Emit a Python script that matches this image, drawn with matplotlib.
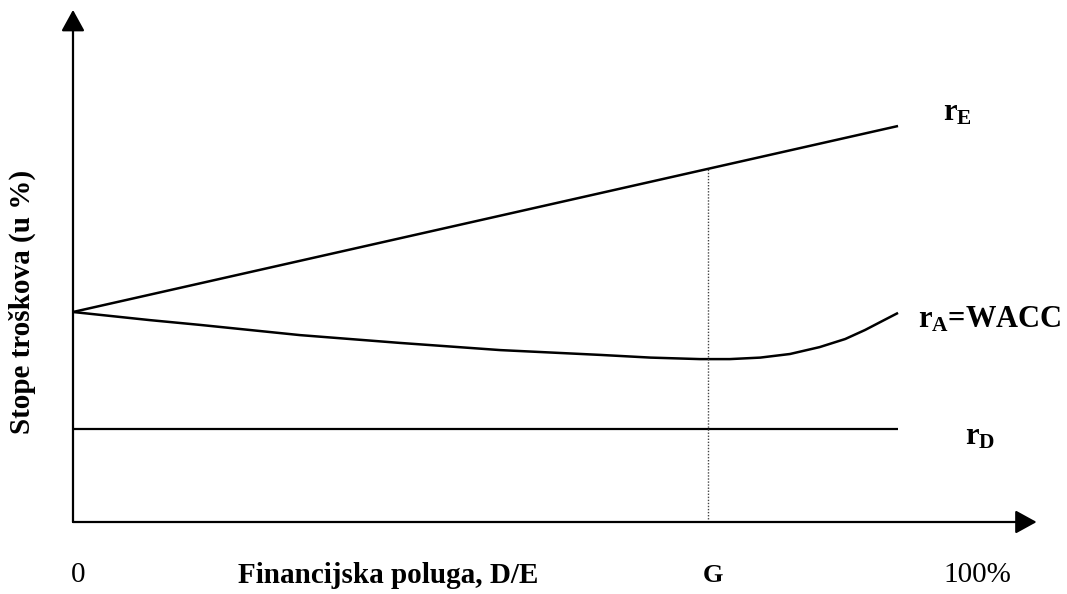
import matplotlib
matplotlib.use("Agg")
import matplotlib.pyplot as plt

# ---- data ----
leverage_wacc = [0, 9.3, 15.4, 27.5, 39.6, 51.8, 63.9, 70.0, 76.0, 79.6, 83.3, 86.9, 90.5, 93.6, 96.0, 98.1, 100]
wacc = [7.0, 6.73, 6.57, 6.23, 5.97, 5.73, 5.57, 5.48, 5.43, 5.43, 5.48, 5.60, 5.83, 6.10, 6.40, 6.70, 6.97]
leverage_line = [0, 100]
r_e = [7.0, 13.2]
r_d = [3.1, 3.1]
g_point = 77.0
x_tick_labels = ["0", "G", "100%"]
x_axis_title = "Financijska poluga, D/E"
y_axis_title = "Stope troškova (u %)"

plt.rcParams['font.family'] = ['Liberation Serif', 'DejaVu Serif']
plt.rcParams['mathtext.fontset'] = 'custom'
plt.rcParams['mathtext.rm'] = 'Liberation Serif'
plt.rcParams['mathtext.bf'] = 'Liberation Serif:bold'
plt.rcParams['mathtext.it'] = 'Liberation Serif:italic'

fig = plt.figure(figsize=(10.67, 5.94), dpi=100)
ax = fig.add_axes([0, 0, 1, 1])
ax.set_xlim(-8.848, 120.48)
ax.set_ylim(-2.4, 17.4)
ax.axis('off')

# axes with arrows
arrow_style = '-|>,head_length=1.0,head_width=0.55'
ax.annotate('', xy=(116.8, 0), xytext=(0, 0),
            arrowprops=dict(arrowstyle=arrow_style, lw=1.6, color='black',
                            shrinkA=0, shrinkB=0, mutation_scale=13))
ax.annotate('', xy=(0, 17.07), xytext=(0, 0),
            arrowprops=dict(arrowstyle=arrow_style, lw=1.6, color='black',
                            shrinkA=0, shrinkB=0, mutation_scale=13))

# curves
ax.plot(leverage_line, r_e, color='black', lw=1.8, solid_capstyle='butt')
ax.plot(leverage_line, r_d, color='black', lw=1.6, solid_capstyle='butt')
ax.plot(leverage_wacc, wacc, color='black', lw=1.8, solid_capstyle='butt',
        solid_joinstyle='round')

# dotted vertical at G
g_top = r_e[0] + (r_e[1] - r_e[0]) * (g_point - leverage_line[0]) / (leverage_line[1] - leverage_line[0])
ax.plot([g_point, g_point], [0, g_top], color='#444444', lw=1.0, linestyle=(0, (1, 1.2)))

fs = 21
# x labels
ax.text(0.6, -1.77, x_tick_labels[0], fontsize=fs, ha='center', va='center')
ax.text(77.6, -1.77, x_tick_labels[1], fontsize=fs - 2, ha='center', va='center', fontweight='bold')
ax.text(109.6, -1.77, x_tick_labels[2], fontsize=fs, ha='center', va='center')
ax.text(38.2, -1.77, x_axis_title, fontsize=fs, ha='center', va='center', fontweight='bold')
ax.text(-6.2, 7.33, y_axis_title, fontsize=fs, ha='center', va='center',
        fontweight='bold', rotation=90)

# line labels
fl = 22
ax.text(105.5, 13.63, r'$\mathbf{r}_{\mathbf{E}}$', fontsize=fl, ha='left', va='center')
ax.text(102.4, 6.73, r'$\mathbf{r}_{\mathbf{A}}$=WACC', fontsize=fl, ha='left', va='center',
        fontweight='bold')
ax.text(108.1, 2.83, r'$\mathbf{r}_{\mathbf{D}}$', fontsize=fl, ha='left', va='center')

fig.savefig('out.png', dpi=100)
